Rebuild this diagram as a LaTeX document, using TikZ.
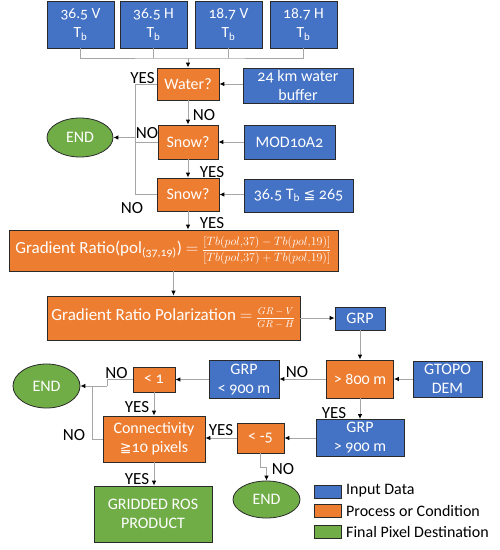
\documentclass[tikz,border=0pt]{standalone}
\usepackage{amsmath}
\usepackage{fontspec}
\setmainfont{Carlito}[Numbers=OldStyle]
\newfontfamily\lblfamily{Carlito}
\newfontfamily\symfamily{DejaVu Sans}
\usetikzlibrary{arrows.meta,shapes.geometric}
\definecolor{inblue}{HTML}{4472C4}
\definecolor{porange}{HTML}{ED7D31}
\definecolor{fgreen}{HTML}{70AD47}
\definecolor{wiregray}{HTML}{A6A6A6}
\definecolor{edgec}{HTML}{2A2A2A}
\newcommand\bxfont{\fontsize{16}{19}\selectfont}
\newcommand\bigbxfont{\fontsize{17}{19}\selectfont}
\newcommand\lbfont{\lblfamily\fontsize{17}{18}\selectfont}
\newcommand\lgfont{\lblfamily\fontsize{16}{18}\selectfont}
\tikzset{
  box/.style={draw=edgec, line width=0.8pt, text=white, inner sep=0pt, align=center, font=\bxfont},
  inp/.style={box, fill=inblue},
  proc/.style={box, fill=porange},
  fin/.style={box, fill=fgreen},
  endn/.style={box, ellipse, fill=fgreen},
  wire/.style={draw=wiregray, line width=0.9pt},
  arr/.style={wire, -{Latex[length=5pt,width=4.5pt,color=black]}},
  lab/.style={font=\lbfont, text=black, inner sep=0pt},
  legtxt/.style={font=\lgfont, text=black, inner sep=0pt, anchor=west}
}
\begin{document}
\begin{tikzpicture}[x=1pt,y=-1pt]
\useasboundingbox (0,0) rectangle (500,550);
\fill[white] (0,0) rectangle (500,550);
% top inputs
\node[inp, font=\fontsize{15.5}{19}\selectfont, minimum width=67pt, minimum height=47pt] (v36) at (80.5,24.5) {36.5 V\\T\textsubscript{b}};
\node[inp, font=\fontsize{15.5}{19}\selectfont, minimum width=67pt, minimum height=47pt] (h36) at (153.5,24.5) {36.5 H\\T\textsubscript{b}};
\node[inp, font=\fontsize{15.5}{19}\selectfont, minimum width=67pt, minimum height=47pt] (v18) at (228.5,24.5) {18.7 V\\T\textsubscript{b}};
\node[inp, font=\fontsize{15.5}{19}\selectfont, minimum width=67pt, minimum height=47pt] (h18) at (303.5,24.5) {18.7 H\\T\textsubscript{b}};
% decisions
\node[proc, minimum width=62pt, minimum height=32pt] (water) at (188,84) {Water?};
\node[inp, minimum width=110pt, minimum height=35pt] (buf) at (298,85.5) {24 km water\\buffer};
\node[proc, minimum width=60pt, minimum height=34pt] (snow1) at (188,142) {Snow?};
\node[inp, minimum width=91pt, minimum height=34pt] (mod) at (289.5,142) {MOD10A2};
\node[proc, minimum width=62pt, minimum height=33pt] (snow2) at (188,194.5) {Snow?};
\node[inp, minimum width=109pt, minimum height=33pt] (tb) at (298.5,195.5) {36.5 T\textsubscript{b} {\symfamily\fontsize{14}{14}\selectfont ≦} 265};
\node[endn, minimum width=66pt, minimum height=39pt] (end1) at (80,137.5) {END};
\node[proc, font=\bigbxfont, minimum width=329pt, minimum height=41pt] (gr) at (173.5,250.5) {Gradient Ratio(pol\textsubscript{(37,19)}) $=$ {\fontsize{12}{12}\selectfont$\dfrac{[Tb(pol{,}37)-Tb(pol{,}19)]}{[Tb(pol{,}37)+Tb(pol{,}19)]}$}};
\node[proc, font=\bigbxfont, minimum width=253pt, minimum height=44pt] (grpol) at (173.5,318) {Gradient Ratio Polarization $=$ {\fontsize{10}{10}\selectfont$\dfrac{GR-V}{GR-H}$}};
\node[inp, minimum width=50pt, minimum height=23pt] (grp) at (360,318.5) {GRP};
\node[proc, minimum width=67pt, minimum height=38pt] (g800) at (360,379) {> 800 m};
\node[inp, minimum width=69pt, minimum height=36pt] (gtopo) at (447.5,379) {GTOPO\\DEM};
\node[inp, minimum width=70pt, minimum height=38pt] (grpl) at (244,379.5) {GRP\\< 900 m};
\node[proc, minimum width=42pt, minimum height=25pt] (lt1) at (154,379.5) {< 1};
\node[endn, minimum width=67pt, minimum height=44pt] (end2) at (46.5,386) {END};
\node[proc, minimum width=102pt, minimum height=46pt] (conn) at (154,439) {Connectivity\\{\symfamily\fontsize{14}{14}\selectfont ≧}10 pixels};
\node[inp, minimum width=88pt, minimum height=37pt] (grpg) at (360,438) {GRP\\> 900 m};
\node[proc, minimum width=47pt, minimum height=30pt] (lt5) at (260.5,438) {< -5};
\node[endn, minimum width=67pt, minimum height=37pt] (end3) at (266.5,499.5) {END};
\node[fin, minimum width=118pt, minimum height=56pt] (grid) at (153,514) {GRIDDED ROS\\PRODUCT};
% connectors
\coordinate (bus) at (188,58);
\draw[wire] (v36.south) |- (bus) -| (h18.south);
\draw[wire] (h36.south) -- (h36.south |- bus);
\draw[wire] (v18.south) -- (v18.south |- bus);
\draw[arr] (bus) -- (water.north);
\draw[arr] (water.east -| buf.west) -- (water.east);
\draw[arr] (mod.west) -- (snow1.east);
\draw[arr] (snow2.east -| tb.west) -- (snow2.east);
\draw[arr] (water.south) -- (snow1.north);
\draw[arr] (snow1.south) -- (snow2.north);
\draw[arr] (snow2.south) -- (snow2.south |- gr.north);
\coordinate (lbus) at (135,137.5);
\draw[wire] (water.west) -- (water.west -| lbus) -- (snow2.west -| lbus) -- (snow2.west);
\draw[wire] (snow1.west) -- (snow1.west -| lbus);
\draw[arr] (lbus) -- (end1.east);
\draw[arr] (gr.south) -- (grpol.north);
\draw[arr] (grpol.east) -- (grpol.east -| grp.west);
\draw[arr] (grp.south) -- (g800.north);
\draw[arr] (gtopo.west) -- (g800.east);
\draw[arr] (g800.west) -- (g800.west -| grpl.east);
\draw[arr] (grpl.west) -- (lt1.east);
\coordinate (j1) at (107,386);
\coordinate (j2) at (92,386);
\draw[wire] (lt1.west) -| (j1);
\draw[arr] (j1) -- (end2.east);
\draw[wire] (conn.west) -| (j2);
\draw[arr] (lt1.south) -- (lt1.south |- conn.north);
\draw[arr] (g800.south) -- (grpg.north);
\draw[arr] (grpg.west) -- (grpg.west -| lt5.east);
\draw[arr] (lt5.west) -- (lt5.west -| conn.east);
\coordinate (k) at (266.5,467);
\draw[wire] (lt5.south) |- (k);
\draw[arr] (k) -- (end3.north);
\draw[arr] (conn.south) -- (conn.south |- grid.north);
% labels
\node[lab] (l1) at (142.5,78) {YES};
\node[lab] (l2) at (204,115) {NO};
\node[lab] (l3) at (147,133) {NO};
\node[lab] (l4) at (212,172) {YES};
\node[lab] (l5) at (132,208) {NO};
\node[lab] (l6) at (212,223) {YES};
\node[lab] (l7) at (297,372) {NO};
\node[lab] (l8) at (116.5,373) {NO};
\node[lab] (l9) at (137,407) {YES};
\node[lab] (l10) at (334,413) {YES};
\node[lab] (l11) at (74,435) {NO};
\node[lab] (l12) at (221,430) {YES};
\node[lab] (l13) at (283,469) {NO};
\node[lab] (l14) at (137,479) {YES};
% legend
\node[inp, minimum width=27pt, minimum height=13pt] (kb) at (327.5,491.5) {};
\node[proc, minimum width=27pt, minimum height=13pt] (ko) at (327.5,511) {};
\node[fin, minimum width=27pt, minimum height=13pt] (kg) at (327.5,532) {};
\node[legtxt] (tb1) at (346,491) {Input Data};
\node[legtxt] (tb2) at (346,511) {Process or Condition};
\node[legtxt] (tb3) at (346,532) {Final Pixel Destination};
\end{tikzpicture}
\end{document}
